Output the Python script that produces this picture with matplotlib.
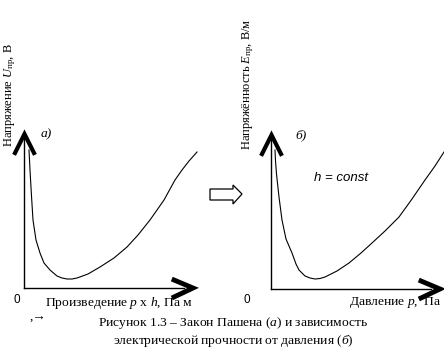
import numpy as np
import matplotlib.pyplot as plt
from matplotlib.patches import Polygon

plt.rcParams['font.family'] = ['Liberation Serif', 'DejaVu Serif']
plt.rcParams['mathtext.fontset'] = 'custom'
plt.rcParams['mathtext.rm'] = 'Liberation Serif'
plt.rcParams['mathtext.it'] = 'Liberation Serif:italic'

W, H = 444, 354

# Paschen curve, left panel (p*h vs breakdown voltage), arbitrary units
ph = [5, 5.5, 6, 7.5, 9, 12, 16, 20, 26, 33, 38, 43, 48, 53, 64, 76, 90,
      103, 114, 126, 140, 151, 158, 165, 173]
u_br = [138, 128, 118, 92, 68, 48, 35, 25, 18, 12, 10, 9, 9, 10, 14, 21, 30,
        41, 53, 68, 88, 108, 118, 127, 136]

# right panel (pressure vs breakdown field, h = const)
p = [4, 4.5, 5.5, 8, 11, 15, 21, 25, 28, 34, 39, 44, 49, 54, 66, 78, 90,
     101, 114, 128, 141, 154, 164, 173]
e_br = [139, 128, 115, 92, 69, 50, 36, 25, 19, 13, 11, 10, 10.5, 12, 18, 26,
        36, 46, 58, 72, 90, 109, 123, 137]


def fx(x):
    return x / W


def fy(y):
    return 1 - y / H


fig = plt.figure(figsize=(W / 100, H / 100), dpi=100)
fig.patch.set_facecolor('white')


def panel(x0, y0, xs, ys):
    ax = fig.add_axes([fx(x0), fy(y0), 172 / W, 154 / H])
    ax.set_xlim(0, 172)
    ax.set_ylim(0, 154)
    ax.axis('off')
    ax.plot(xs, ys, color='black', lw=0.8, clip_on=False)
    # axes lines
    ax.plot([0, 0], [0, 150], color='black', lw=1.0, clip_on=False)
    ax.plot([0, 160], [0, 0], color='black', lw=1.0, clip_on=False)
    # arrow heads
    ax.plot([-9, 0.5, 10], [135, 154, 135], color='black', lw=3.0,
            solid_joinstyle='miter', clip_on=False)
    ax.plot([150, 169, 150], [8, 0, -9], color='black', lw=3.5,
            solid_joinstyle='miter', clip_on=False)
    return ax


panel(24, 288, ph, u_br)
panel(271, 289, p, e_br)

# hollow arrow between the panels
arrow = [(210, 189), (233, 189), (233, 185), (242, 194), (233, 204),
         (233, 200), (210, 200)]
fig.patches.append(Polygon([(fx(a), fy(b)) for a, b in arrow], closed=True,
                           fill=False, edgecolor='black', lw=0.9,
                           transform=fig.transFigure))

fs = 9
fs2 = 9.7
fig.text(fx(10), fy(147), 'Напряжение $U_{\\mathrm{пр}}$, В', rotation=90,
         fontsize=fs, ha='center', va='bottom')
fig.text(fx(248), fy(150), 'Напряжённость $E_{\\mathrm{пр}}$, В/м', rotation=90,
         fontsize=fs, ha='center', va='bottom')
fig.text(fx(41), fy(134), 'а)', fontsize=fs2, style='italic', va='center')
fig.text(fx(295), fy(135), 'б)', fontsize=fs2, style='italic', va='center')
fig.text(fx(314), fy(178), 'h = const', fontsize=9.5, style='italic',
         family='Liberation Sans', va='center')

fig.text(fx(17), fy(300), '0', fontsize=8.5, family='Liberation Sans',
         ha='center', va='center')
fig.text(fx(247), fy(300), '0', fontsize=8.5, family='Liberation Sans',
         ha='center', va='center')
fig.text(fx(45), fy(303), 'Произведение $p$ х $h$, Па м', fontsize=fs2,
         va='center')
fig.text(fx(349), fy(303), 'Давление $p$,  Па', fontsize=fs2, va='center')
fig.text(fx(30), fy(318), ',→', fontsize=fs2, va='center')

fig.text(fx(233), fy(323), 'Рисунок 1.3 – Закон Пашена ($а$) и зависимость',
         fontsize=fs2, ha='center', va='center')
fig.text(fx(233), fy(341), 'электрической прочности от давления ($б$)',
         fontsize=fs2, ha='center', va='center')

fig.savefig('out.png', dpi=100)
